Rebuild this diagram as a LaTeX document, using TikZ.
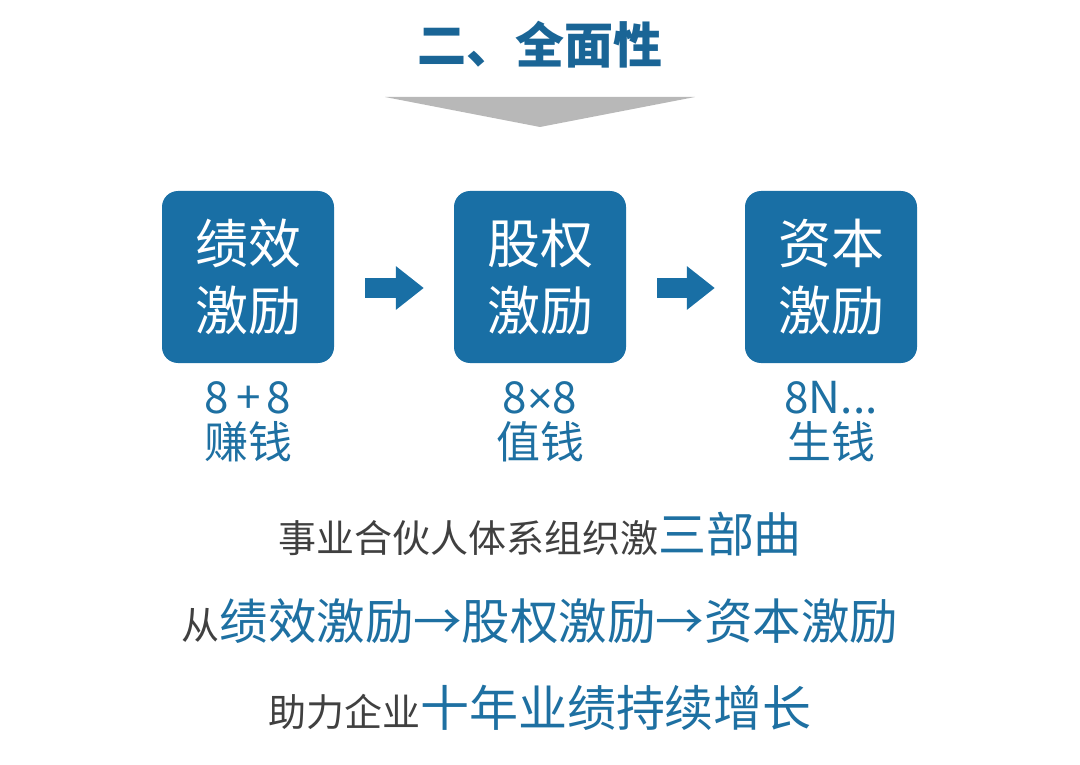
\documentclass[tikz,border=0pt]{standalone}
\usepackage{fontspec}
\setmainfont{Noto Sans CJK SC}
\newfontfamily\latin{Liberation Sans}
\usetikzlibrary{arrows.meta,positioning}
\definecolor{deepblue}{RGB}{26,101,150}
\definecolor{boxblue}{RGB}{25,111,165}
\definecolor{textblue}{RGB}{30,112,162}
\definecolor{darkgray}{RGB}{64,64,64}
\definecolor{funnel}{RGB}{184,184,184}

\newcommand{\fs}[2]{\fontsize{#1}{#2}\selectfont}

\begin{document}
\begin{tikzpicture}[x=1pt, y=-1pt,
    stage/.style={fill=boxblue, rounded corners=16pt, minimum width=172pt, minimum height=172pt,
                  text=white, align=center, inner sep=0pt, font=\fs{53}{67}},
    gain/.style={text=textblue, align=center, inner sep=0pt, font=\fs{44}{45}},
    flow/.style={line width=20pt, boxblue, -{Triangle[length=28pt, width=42pt]}},
    motto/.style={anchor=base, inner sep=0pt, text=darkgray}]

    \useasboundingbox (0,0) rectangle (1080,765);

    % Title
    \node[anchor=base, inner sep=0pt, text=deepblue, font=\fs{49}{49}\bfseries] (title) at (540,64) {二、全面性};

    % Funnel under the title
    \fill[funnel] (385,97) -- (695,97) -- (540,127) -- cycle;

    % Three stages
    \node[stage] (perf) at (248,277) {绩效\\激励};
    \node[stage] (equity) at (540,277) {股权\\激励};
    \node[stage] (capital) at (831,277) {资本\\激励};

    % Arrows between stages
    \draw[flow, shorten <=31pt, shorten >=30pt] ([yshift=-11pt]perf.east) -- ([yshift=-11pt]equity.west);
    \draw[flow, shorten <=31pt, shorten >=30pt] ([yshift=-11pt]equity.east) -- ([yshift=-11pt]capital.west);

    % What each stage brings
    \node[gain] (earn) at (248,422) {8\kern7pt+\kern6pt8\\赚钱};
    \node[gain] (worth) at (540,422) {8{\latin ×}8\\值钱};
    \node[gain] (grow) at (831,422) {8N...\\生钱};

    % Summary lines
    \node[motto] (line1) at (540,552) {\fs{38}{38}事业合伙人体系组织激{\color{textblue}\fs{48}{48}三部曲}};
    \node[motto] (line2) at (540,639) {\fs{38}{38}从{\color{textblue}\fs{48.5}{48.5}绩效激励→股权激励→资本激励}};
    \node[motto] (line3) at (540,726) {\fs{38}{38}助力企业{\color{textblue}\fs{49}{49}十年业绩持续增长}};

\end{tikzpicture}
\end{document}
